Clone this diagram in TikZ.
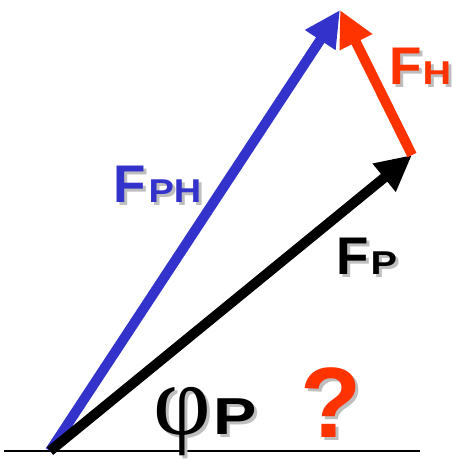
\documentclass[tikz,border=0pt]{standalone}
\usepackage{fontspec}
\usepackage{graphicx}
\setmainfont{Liberation Sans}
\newfontfamily\phifont{Liberation Serif}
\usetikzlibrary{arrows.meta}
\definecolor{vblue}{RGB}{51,51,204}
\definecolor{vred}{RGB}{255,51,0}
\definecolor{shade}{RGB}{190,190,190}
\newcommand{\shd}[2]{\makebox[0pt][l]{\hspace{3pt}\raisebox{-3pt}{\color{shade}#2}}{\color{#1}#2}}
\newcommand{\wide}[2]{\scalebox{#1}[1]{#2}}
\begin{document}
\begin{tikzpicture}[x=1pt,y=1pt,
  vec/.style={line width=10pt,-{Triangle[length=36pt,width=34pt]}},
  lbl/.style={inner sep=0pt,anchor=base west,font=\bfseries}]
\useasboundingbox (0,0) rectangle (452,459);
\coordinate (O) at (50,8);
\coordinate (B) at (340,449);
\coordinate (P) at (412,304);
\coordinate (L) at (4,8);
\coordinate (R) at (420,8);
\draw[line width=1.5pt] (L) -- (R);
\draw[vec,vblue] (O) -- (B);
\draw[vec,black] (O) -- (P);
\draw[vec,vred] (P) -- (B);
\node[lbl] (fph) at (113,256) {\shd{vblue}{\fontsize{53}{53}\selectfont F}\hspace{3pt}\shd{vblue}{\wide{1.15}{\fontsize{33}{33}\selectfont PH}}};
\node[lbl] (fh) at (389,374) {\shd{vred}{\fontsize{53}{53}\selectfont F}\hspace{1pt}\shd{vred}{\wide{1.2}{\fontsize{33}{33}\selectfont H}}};
\node[lbl] (fp) at (336,184) {\shd{black}{\fontsize{53}{53}\selectfont F}\hspace{2pt}\shd{black}{\wide{1.2}{\fontsize{33}{33}\selectfont P}}};
\node[lbl] (phip) at (153,24) {\shd{black}{\fontsize{100}{100}\selectfont\phifont\mdseries φ}\hspace{3pt}\shd{black}{\wide{1.25}{\fontsize{52}{52}\selectfont P}}};
\node[lbl] (q) at (300,21) {\shd{vred}{\fontsize{100}{100}\selectfont ?}};
\end{tikzpicture}
\end{document}
